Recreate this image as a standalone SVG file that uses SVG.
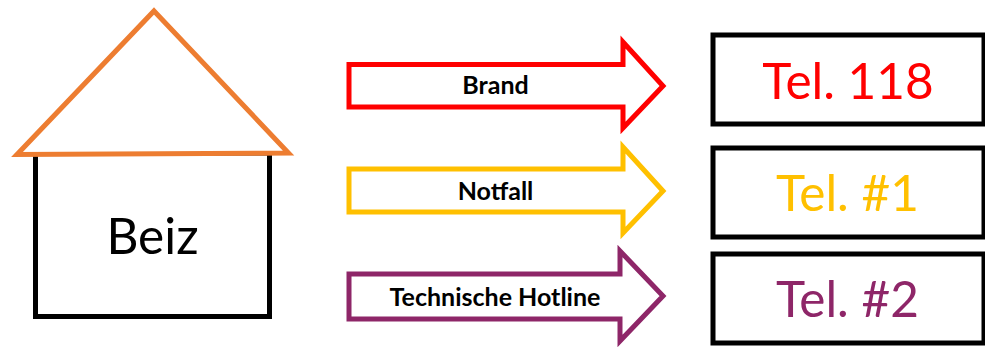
<svg xmlns="http://www.w3.org/2000/svg" width="985" height="347" viewBox="0 0 985 347">
<style>
text{font-family:Lato,"Open Sans",sans-serif;text-anchor:middle}
.big{font-size:49.5px}
.lab{font-size:25px;font-weight:700;fill:#000}
.s{fill:#fff;stroke-width:5}
.k{stroke:#000}
.r{stroke:#f00}.y{stroke:#ffc000}.p{stroke:#8e2668}
</style>
<rect width="985" height="347" fill="#fff"/>
<g id="house">
<rect class="s k" x="35.5" y="153" width="234" height="163.5"/>
<path class="s" stroke="#ed7d31" stroke-miterlimit="10" d="M154 11 288.500 153 17 154.500Z"/>
<text class="big" x="152.500" y="254" fill="#000">Beiz</text>
</g>
<g id="connectors">
<g id="arrow-brand"><path class="s r" d="M349 64.500H623V42L663 86 623 128V107H349Z"/><text class="lab" x="495.500" y="94">Brand</text></g>
<g id="arrow-notfall"><path class="s y" d="M349 169H623V147L663 191 623 233V212H349Z"/><text class="lab" x="495.500" y="199.500">Notfall</text></g>
<g id="arrow-hotline"><path class="s p" d="M349 274H620V251L663 296 620 341V319H349Z"/><text class="lab" x="495" y="306">Technische Hotline</text></g>
</g>
<g id="tel-118"><rect class="s k" x="713" y="35" width="271" height="89"/><text class="big" x="848" y="99" fill="#f00">Tel. 118</text></g>
<g id="tel-1"><rect class="s k" x="713" y="148" width="271" height="89"/><text class="big" x="847.500" y="211" fill="#ffc000">Tel. #1</text></g>
<g id="tel-2"><rect class="s k" x="713" y="254" width="271" height="89"/><text class="big" x="847.500" y="317" fill="#8e2668">Tel. #2</text></g>
</svg>
